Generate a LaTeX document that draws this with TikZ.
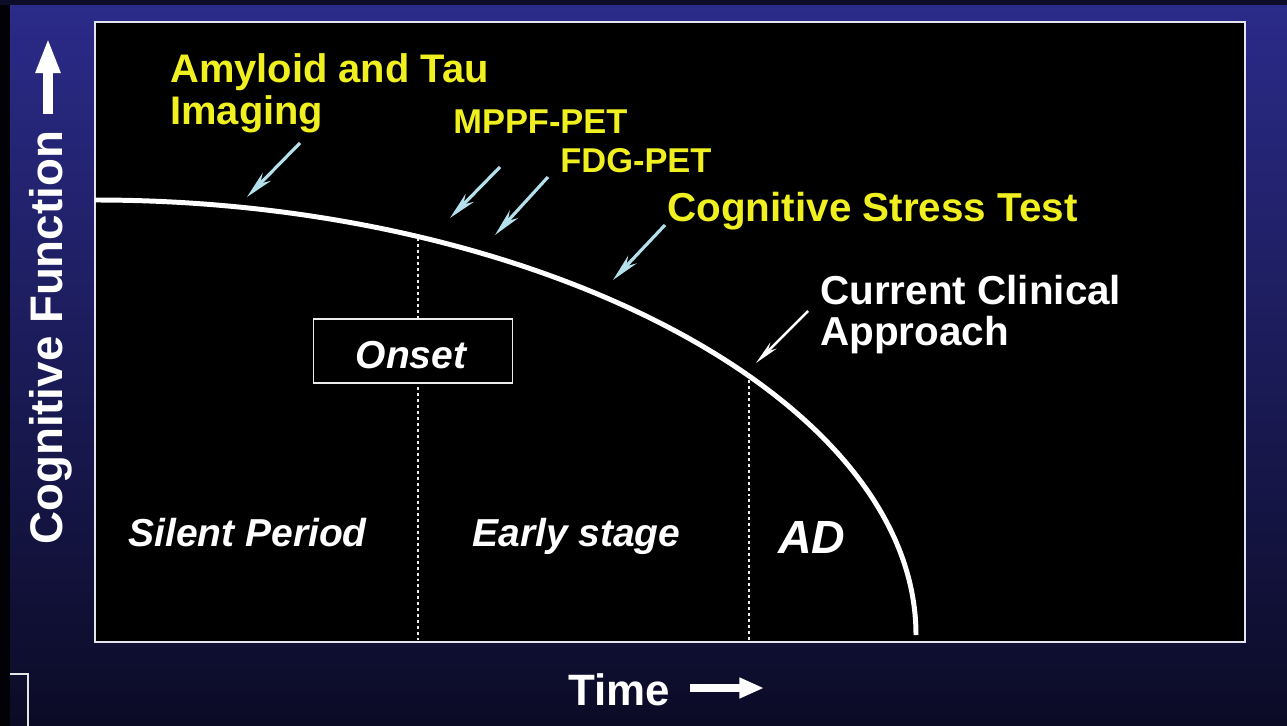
\documentclass[tikz,border=0pt]{standalone}
\usepackage{fontspec}
\setmainfont{Liberation Sans}
\usetikzlibrary{arrows.meta}
\definecolor{bgtop}{HTML}{2B2B8A}
\definecolor{bgbot}{HTML}{0B0B26}
\definecolor{ylw}{HTML}{F0F020}
\definecolor{lblue}{HTML}{B4E0EC}
\definecolor{frame}{HTML}{E4E4F0}
\begin{document}
\begin{tikzpicture}[x=0.02cm,y=-0.02cm,
  txt/.style={inner sep=0pt, text=white, font=\bfseries},
  ytxt/.style={inner sep=0pt, text=ylw, font=\bfseries},
  pointer/.style={draw=lblue, line width=1.8pt, -{Stealth[length=16pt,width=6.5pt]}},
  wpointer/.style={draw=white, line width=1.4pt, -{Stealth[length=14pt,width=5pt]}},
  divider/.style={draw=white!85!gray, line width=0.85pt, dash pattern=on 1.7pt off 1.7pt},
  bigarrow/.style={draw=white, -{Triangle[length=20pt,width=13pt]}}]
% background
\useasboundingbox (0,0) rectangle (1287,726);
\shade[top color=bgtop, bottom color=bgbot] (0,0) rectangle (1287,726);
\fill[black!85!bgbot] (0,0) rectangle (10,726);
\fill[black!70!bgtop] (0,0) rectangle (1287,5);
% panel
\fill[black] (95,22) rectangle (1245,642);
% dividers
\coordinate (d1top) at (418,238);
\coordinate (d1bot) at (418,640);
\coordinate (d2top) at (749,380);
\coordinate (d2bot) at (749,640);
\draw[divider] (d1top) -- (d1bot);
\draw[divider] (d2top) -- (d2bot);
% onset box
\node[draw=white!85!gray, line width=0.85pt, fill=black, minimum width=113.4pt, minimum height=36.3pt, inner sep=0pt] (onset) at (413,351) {};
\node[txt, font=\bfseries\itshape\fontsize{22.2pt}{26pt}\selectfont, anchor=base] (onsettxt) at (411,368) {Onset};
\draw[frame, line width=1.4pt] (95,22) rectangle (1245,642);
% curve
\coordinate (cstart) at (95,200);
\coordinate (cend) at (916,635);
\draw[white, line width=2.83pt] (cstart) .. controls (540,200) and (916,400) .. (cend);
% stage labels
\node[txt, font=\bfseries\itshape\fontsize{22.2pt}{26pt}\selectfont, anchor=base west] (silent) at (128,546) {Silent Period};
\node[txt, font=\bfseries\itshape\fontsize{22.2pt}{26pt}\selectfont, anchor=base west] (early) at (472,546) {Early stage};
\node[txt, font=\bfseries\itshape\fontsize{26.5pt}{30pt}\selectfont, anchor=base west] (ad) at (778,553) {AD};
% yellow labels
\node[ytxt, font=\bfseries\fontsize{22.7pt}{24.4pt}\selectfont, anchor=base west, align=left] (amy) at (170,125) {Amyloid and Tau\\Imaging};
\node[ytxt, font=\bfseries\fontsize{19.6pt}{22pt}\selectfont, anchor=base west] (mppf) at (453,134) {MPPF-PET};
\node[ytxt, font=\bfseries\fontsize{19.6pt}{22pt}\selectfont, anchor=base west] (fdg) at (560,173) {FDG-PET};
\node[ytxt, font=\bfseries\fontsize{23pt}{26pt}\selectfont, anchor=base west] (cst) at (667,221) {Cognitive Stress Test};
\node[txt, font=\bfseries\fontsize{23pt}{23.2pt}\selectfont, anchor=base west, align=left] (cca) at (820,345) {Current Clinical\\Approach};
% pointers
\coordinate (a1s) at (300,143); \coordinate (a1e) at (247,197);
\coordinate (a2s) at (500,167); \coordinate (a2e) at (450,218);
\coordinate (a3s) at (548,177); \coordinate (a3e) at (495,235);
\coordinate (a4s) at (665,225); \coordinate (a4e) at (613,280);
\coordinate (a5s) at (808,311); \coordinate (a5e) at (756,363);
\draw[pointer] (a1s) -- (a1e);
\draw[pointer] (a2s) -- (a2e);
\draw[pointer] (a3s) -- (a3e);
\draw[pointer] (a4s) -- (a4e);
\draw[wpointer] (a5s) -- (a5e);
% axes
\node[txt, font=\bfseries\fontsize{26pt}{30pt}\selectfont, anchor=base west, rotate=90] (yaxis) at (62,545) {Cognitive Function};
\coordinate (yarrs) at (48,114); \coordinate (yarre) at (48,38);
\draw[bigarrow, line width=5.67pt] (yarrs) -- (yarre);
\node[txt, font=\bfseries\fontsize{25pt}{30pt}\selectfont, anchor=base west] (xaxis) at (568,705) {Time};
\coordinate (xarrs) at (690,688); \coordinate (xarre) at (764,688);
\draw[bigarrow, line width=4.54pt, -{Triangle[length=14pt,width=11pt]}] (xarrs) -- (xarre);
% corner mark
\draw[white!80!gray, line width=0.85pt] (10,674) -- (28,674) -- (28,726);
\end{tikzpicture}
\end{document}
